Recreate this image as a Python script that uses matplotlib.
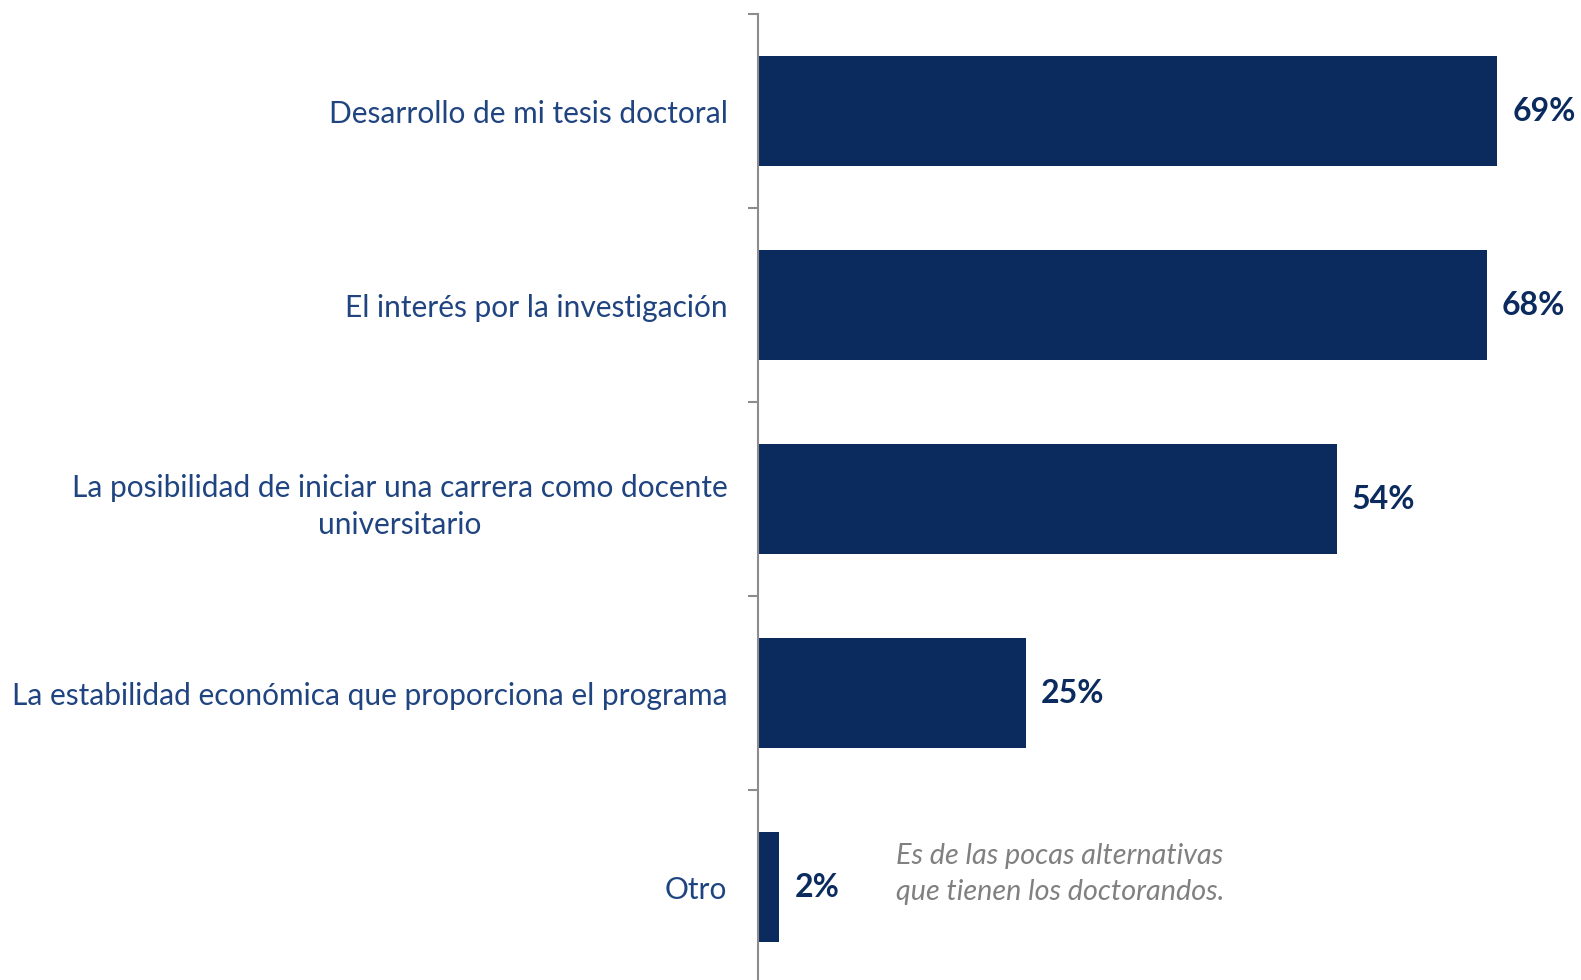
import matplotlib.pyplot as plt
from matplotlib.ticker import FixedLocator

# Data
categorias = [
    "Desarrollo de mi tesis doctoral",
    "El interés por la investigación",
    "La posibilidad de iniciar una carrera como docente\nuniversitario",
    "La estabilidad económica que proporciona el programa",
    "Otro",
]
porcentajes = [69, 68, 54, 25, 2]
nota = "Es de las pocas alternativas\nque tienen los doctorandos."

bar_color = "#0B2B5E"
label_color = "#1F4480"
axis_color = "#8C8C8C"

plt.rcParams['font.family'] = ['Lato', 'DejaVu Sans']

W, H = 1581, 980
fig = plt.figure(figsize=(W / 100, H / 100), dpi=100)
ax_left = 758 / W
ax_bottom = (H - 984) / H
ax = fig.add_axes([ax_left, ax_bottom, 1 - ax_left, 970 / H])

y = list(range(len(categorias)))
ax.barh(y, porcentajes, height=0.57, color=bar_color)
ax.set_ylim(len(categorias) - 0.5, -0.5)
ax.set_xlim(0, 76.8)

for yi, v in zip(y, porcentajes):
    ax.annotate(f"{v}%", (v, yi), xytext=(11, 0), textcoords="offset points",
                va="center", ha="left", fontsize=23, fontweight="bold", color=bar_color)

# category labels
ax.set_yticks(y)
ax.set_yticklabels(categorias, fontsize=21.5, color=label_color)
for lab in ax.get_yticklabels():
    lab.set_multialignment("center")
    lab.set_linespacing(1.4)
ax.tick_params(axis="y", which="major", length=0, pad=22)
ax.yaxis.set_minor_locator(FixedLocator([i - 0.5 for i in range(len(categorias) + 1)]))
ax.tick_params(axis="y", which="minor", length=7.5, width=1.5, color=axis_color)

ax.set_xticks([])
for s in ["top", "right", "bottom"]:
    ax.spines[s].set_visible(False)
ax.spines["left"].set_color(axis_color)
ax.spines["left"].set_linewidth(1.5)

ax.text(896 / W, 1 - 874 / H, nota, transform=fig.transFigure, fontsize=20.7,
        style="italic", color="#808080", va="center", ha="left", linespacing=1.45)

fig.savefig("out.png", dpi=100)
